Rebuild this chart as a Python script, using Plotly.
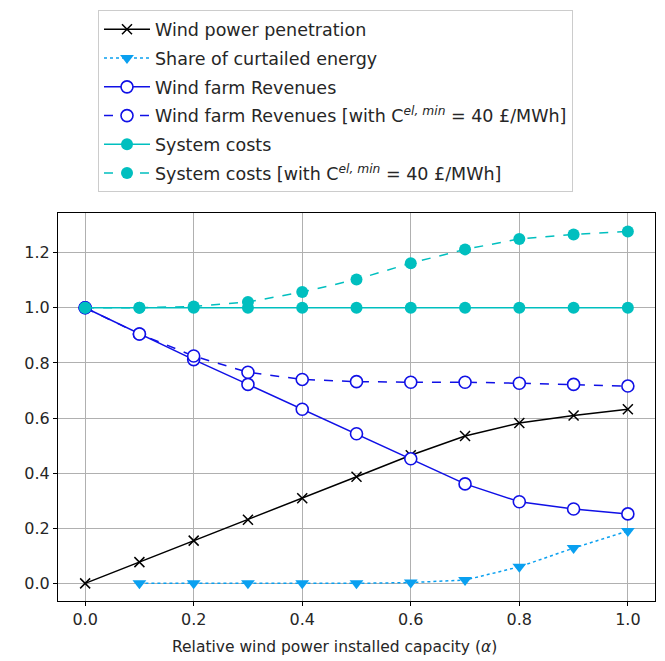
import plotly.graph_objects as go

alpha = [0.0, 0.1, 0.2, 0.3, 0.4, 0.5, 0.6, 0.7, 0.8, 0.9, 1.0]
alpha_curt = [0.1, 0.2, 0.3, 0.4, 0.5, 0.6, 0.7, 0.8, 0.9, 1.0]

wind_penetration = [0.0, 0.077, 0.155, 0.231, 0.309, 0.387, 0.465, 0.535, 0.582, 0.609, 0.632]
curtailed_share = [0.0, 0.0, 0.0, 0.0, 0.0, 0.003, 0.012, 0.06, 0.128, 0.19]
revenues = [1.0, 0.905, 0.812, 0.722, 0.632, 0.543, 0.452, 0.361, 0.296, 0.270, 0.252]
revenues_min = [1.0, 0.905, 0.825, 0.766, 0.740, 0.732, 0.730, 0.730, 0.726, 0.722, 0.716]
system_costs = [1.0, 1.0, 1.0, 1.0, 1.0, 1.0, 1.0, 1.0, 1.0, 1.0, 1.0]
system_costs_min = [1.0, 1.0, 1.005, 1.021, 1.057, 1.103, 1.162, 1.212, 1.250, 1.266, 1.277]

names = [
    "Wind power penetration",
    "Share of curtailed energy",
    "Wind farm Revenues",
    "Wind farm Revenues [with C<sup><i>el, min</i></sup> = 40 £/MWh]",
    "System costs",
    "System costs [with C<sup><i>el, min</i></sup> = 40 £/MWh]",
]
x_title = "Relative wind power installed capacity (<i>α</i>)"

BLUE = "#1010e6"
CYAN = "#00bfbf"
SKY = "#0aa0f0"

fig = go.Figure()
fig.add_trace(go.Scatter(x=alpha, y=wind_penetration, name=names[0], mode="lines+markers",
                         line=dict(color="black", width=1.5),
                         marker=dict(symbol="x-thin", size=10, line=dict(color="black", width=1.5)),
                         legendgroup="a"))
fig.add_trace(go.Scatter(x=alpha_curt, y=curtailed_share, name=names[1], mode="lines+markers",
                         line=dict(color=SKY, width=1.5, dash="dot"),
                         marker=dict(symbol="triangle-down", size=12, color=SKY),
                         legendgroup="b"))
fig.add_trace(go.Scatter(x=alpha, y=revenues, name=names[2], mode="lines+markers",
                         line=dict(color=BLUE, width=1.5),
                         marker=dict(symbol="circle", size=12, color="white", line=dict(width=1.6, color=BLUE)),
                         legendgroup="c"))
fig.add_trace(go.Scatter(x=alpha, y=revenues_min, name=names[3], mode="lines+markers",
                         line=dict(color=BLUE, width=1.5, dash="dash"),
                         marker=dict(symbol="circle", size=12, color="white", line=dict(width=1.6, color=BLUE)),
                         legendgroup="d"))
fig.add_trace(go.Scatter(x=alpha, y=system_costs, name=names[4], mode="lines+markers",
                         line=dict(color=CYAN, width=1.5),
                         marker=dict(symbol="circle", size=12, color=CYAN),
                         legendgroup="e"))
fig.add_trace(go.Scatter(x=alpha, y=system_costs_min, name=names[5], mode="lines+markers",
                         line=dict(color=CYAN, width=1.5, dash="dash"),
                         marker=dict(symbol="circle", size=12, color=CYAN),
                         legendgroup="f"))

axis_common = dict(showline=True, linecolor="black", linewidth=1.2, mirror=True,
                   showgrid=True, gridcolor="#b0b0b0", gridwidth=1,
                   ticks="outside", ticklen=4, tickcolor="black", automargin=False,
                   zeroline=False, tickfont=dict(size=16, color="#262626"))

fig.update_layout(
    template="none",
    width=665, height=661,
    margin=dict(l=58, r=10, t=213, b=60, autoexpand=False),
    plot_bgcolor="white", paper_bgcolor="white",
    font=dict(family="DejaVu Sans", size=15, color="#262626"),
    xaxis=dict(range=[-0.05, 1.05], tickvals=[0, 0.2, 0.4, 0.6, 0.8, 1.0],
               ticktext=["0.0", "0.2", "0.4", "0.6", "0.8", "1.0"],
               **axis_common),
    yaxis=dict(range=[-0.064, 1.344], tickvals=[0, 0.2, 0.4, 0.6, 0.8, 1.0, 1.2],
               ticktext=["0.0", "0.2", "0.4", "0.6", "0.8", "1.0", "1.2"],
               **axis_common),
    legend=dict(x=0.067, y=1.522, xanchor="left", yanchor="top",
                bordercolor="#cccccc", borderwidth=1, bgcolor="white",
                font=dict(size=17.5, color="#262626"), tracegroupgap=3,
                itemwidth=46),
    showlegend=True,
    annotations=[dict(text=x_title, xref="paper", yref="paper",
                      x=(334 - 58) / 597, y=(601 - 647) / 388,
                      xanchor="center", yanchor="middle", showarrow=False,
                      font=dict(size=15.5, color="#262626"))],
)

fig.write_html("out.html", config={"displayModeBar": False},
               post_script="document.body.style.margin='0px';document.body.style.overflow='hidden';")
